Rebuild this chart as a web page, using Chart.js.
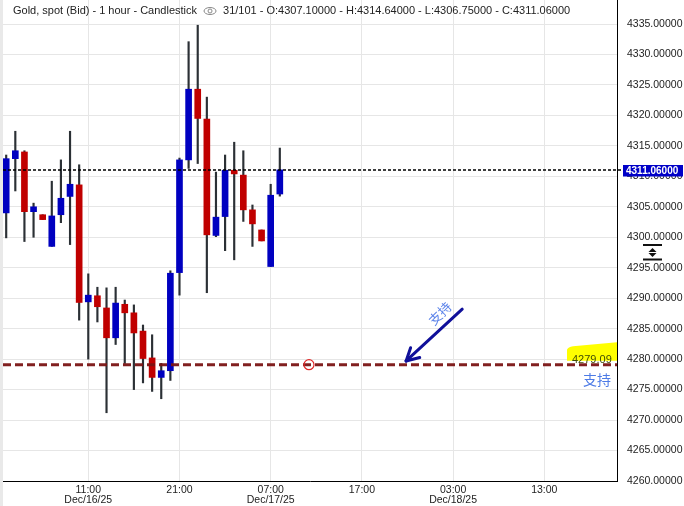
<!DOCTYPE html>
<html><head><meta charset="utf-8">
<script src="https://cdn.jsdelivr.net/npm/chart.js@4.4.1/dist/chart.umd.min.js"></script>
<style>html,body{margin:0;padding:0;background:#fff;overflow:hidden}#wrap{width:684px;height:506px;position:relative}</style>
</head><body><div id="wrap"><canvas id="c" width="684" height="506"></canvas></div>
<script>
// ---- data (hourly candles, index 0 = 02:00 Dec/16/25) ----
const hourIndex = [0,1,2,3,4,5,6,7,8,9,10,11,12,13,14,15,16,17,18,19,20,21,22,23,24,25,26,27,28,29,30];
const opens  = [4304.0,4312.9,4314.0,4304.2,4303.7,4298.5,4303.7,4306.7,4308.6,4289.4,4290.4,4288.4,4283.5,4289.0,4287.6,4284.6,4280.2,4277.0,4278.1,4294.2,4312.7,4324.3,4319.4,4300.3,4303.4,4311.0,4310.2,4304.5,4301.2,4295.2,4307.10];
const highs  = [4313.5,4317.4,4314.2,4305.6,4303.7,4309.2,4312.7,4317.4,4311.9,4294.0,4291.8,4291.7,4291.8,4289.7,4288.9,4285.6,4284.0,4279.3,4294.5,4313.0,4332.1,4334.8,4323.0,4310.7,4313.5,4315.6,4314.2,4305.3,4301.2,4308.7,4314.64];
const lows   = [4299.9,4307.6,4299.3,4300.0,4302.9,4298.5,4302.4,4298.8,4286.4,4280.0,4286.1,4271.2,4282.4,4279.3,4275.0,4276.1,4274.7,4273.5,4276.5,4290.5,4311.3,4312.1,4290.9,4300.1,4297.8,4296.3,4302.6,4298.5,4299.4,4295.2,4306.75];
const closes = [4312.9,4314.2,4304.2,4305.0,4302.9,4303.5,4306.4,4308.7,4289.3,4290.5,4288.6,4283.5,4289.2,4287.6,4284.3,4280.1,4277.0,4278.1,4294.1,4312.7,4324.3,4319.5,4300.4,4303.3,4311.0,4310.4,4304.5,4302.2,4299.4,4306.9,4311.06];

const xTickValues = [9,19,29,39,49,59];
const xTickLabels = [['11:00','Dec/16/25'],'21:00',['07:00','Dec/17/25'],'17:00',['03:00','Dec/18/25'],'13:00'];
const yTickValues = [4260,4265,4270,4275,4280,4285,4290,4295,4300,4305,4310,4315,4320,4325,4330,4335];

const lastClose = 4311.06;
const supportLevel = 4279.09;
const supportText = '支持';
const headerTitle = 'Gold, spot (Bid) - 1 hour - Candlestick';
const headerInfo = '31/101 - O:4307.10000 - H:4314.64000 - L:4306.75000 - C:4311.06000';
const markerPoint = [33.2, 4279.09];
const arrowFrom = [50.0, 4288.2];
const arrowTo = [43.85, 4279.7];

// ---- styles ----
const FONT = '"Liberation Sans", Arial, sans-serif';
const CJK = '"Noto Sans CJK SC", "Noto Sans", sans-serif';
const UP = '#0000c0', DOWN = '#c00000', WICK = '#2b3035';

const bodyData = hourIndex.map((h,i)=>({x:h, y:[opens[i], closes[i]]}));
const wickData = hourIndex.map((h,i)=>({x:h, y:[lows[i], highs[i]]}));
const bodyColors = hourIndex.map((h,i)=> closes[i] >= opens[i] ? UP : DOWN);

const overlay = {
  id: 'overlay',
  beforeDraw(chart){
    const c = chart.ctx; c.save(); c.fillStyle = '#fff'; c.fillRect(0,0,chart.width,chart.height); c.restore();
  },
  afterDatasetsDraw(chart){
    const {ctx:c, chartArea:a, scales:{x,y}} = chart;
    c.save();
    const ys = y.getPixelForValue(supportLevel);
    // yellow highlight
    c.fillStyle = '#ffff00';
    c.beginPath();
    c.moveTo(a.right-50, ys-4);
    c.lineTo(a.right-50, ys-15);
    c.quadraticCurveTo(a.right-49, ys-18, a.right-44, ys-18.5);
    c.lineTo(a.right, ys-22.5);
    c.lineTo(a.right, ys-4);
    c.closePath(); c.fill();
    c.fillStyle = '#3f4c05';
    c.font = '11px ' + FONT; c.textBaseline = 'alphabetic'; c.textAlign = 'left';
    c.fillText(supportLevel.toFixed(2), a.right-45, ys-1.5);
    // support dashed line
    c.strokeStyle = 'rgba(122,20,20,0.95)'; c.lineWidth = 3; c.setLineDash([8,4]);
    c.beginPath(); c.moveTo(a.left, ys); c.lineTo(a.right, ys); c.stroke();
    // marker circle
    c.setLineDash([]);
    c.strokeStyle = '#e02828'; c.lineWidth = 1.2;
    c.beginPath(); c.arc(x.getPixelForValue(markerPoint[0]), y.getPixelForValue(markerPoint[1]), 5, 0, Math.PI*2); c.stroke();
    // last price dotted line
    const yc = Math.round(y.getPixelForValue(lastClose));
    c.strokeStyle = '#000'; c.lineWidth = 1.5; c.setLineDash([3,2]);
    c.beginPath(); c.moveTo(a.left, yc); c.lineTo(a.right+6, yc); c.stroke();
    c.setLineDash([]);
    // arrow
    const x0 = x.getPixelForValue(arrowFrom[0]), y0 = y.getPixelForValue(arrowFrom[1]);
    const x1 = x.getPixelForValue(arrowTo[0]), y1 = y.getPixelForValue(arrowTo[1]);
    c.strokeStyle = '#10109a'; c.lineWidth = 3; c.lineCap = 'round';
    c.beginPath(); c.moveTo(x0,y0); c.lineTo(x1,y1); c.stroke();
    const ang = Math.atan2(y0-y1, x0-x1);
    [ -0.5, 0.5 ].forEach(d=>{
      c.beginPath(); c.moveTo(x1,y1);
      c.lineTo(x1 + 14*Math.cos(ang+d), y1 + 14*Math.sin(ang+d)); c.stroke();
    });
    // rotated text
    c.save();
    c.translate(440, 313.5); c.rotate(-Math.PI/4);
    c.fillStyle = '#5a82ea'; c.font = '13px ' + CJK; c.textAlign = 'center'; c.textBaseline = 'middle';
    c.fillText(supportText, 0, 0);
    c.restore();
    // support text right
    c.fillStyle = '#4d7be6'; c.font = '14px ' + CJK; c.textAlign = 'center'; c.textBaseline = 'middle';
    c.fillText(supportText, a.right-20, ys+15);
    c.restore();
  },
  afterDraw(chart){
    const {ctx:c, chartArea:a, scales:{y}} = chart;
    c.save();
    // left strip
    c.fillStyle = '#e9e9e9'; c.fillRect(0,0,3,chart.height);
    // last price label box
    const yc = Math.round(y.getPixelForValue(lastClose));
    c.fillStyle = '#0000c8'; c.fillRect(a.right+6, yc-5, 60, 11.5);
    c.fillStyle = '#fff'; c.font = 'bold 10px ' + FONT; c.textAlign = 'left'; c.textBaseline = 'middle';
    c.fillText(lastClose.toFixed(5), a.right+9, yc+1);
    // scale icon
    c.strokeStyle = '#111'; c.lineWidth = 2; c.fillStyle = '#111';
    c.beginPath(); c.moveTo(643,245); c.lineTo(662,245); c.moveTo(643,259.5); c.lineTo(662,259.5); c.stroke();
    c.beginPath(); c.moveTo(652.5,248); c.lineTo(656.5,252); c.lineTo(648.5,252); c.closePath(); c.fill();
    c.beginPath(); c.moveTo(652.5,257); c.lineTo(656.5,253); c.lineTo(648.5,253); c.closePath(); c.fill();
    // header
    c.fillStyle = '#222'; c.font = '11px ' + FONT; c.textAlign = 'left'; c.textBaseline = 'middle';
    c.fillText(headerTitle, 13, 11);
    const w = c.measureText(headerTitle).width;
    const ex = 13 + w + 13;
    c.strokeStyle = '#888'; c.lineWidth = 1;
    c.beginPath(); c.ellipse(ex, 11, 6, 3.5, 0, 0, Math.PI*2); c.stroke();
    c.beginPath(); c.arc(ex, 11, 2, 0, Math.PI*2); c.stroke();
    c.fillStyle = '#222';
    c.fillText(headerInfo, ex + 13, 11);
    c.restore();
  }
};

new Chart(document.getElementById('c'), {
  type: 'bar',
  data: {
    datasets: [
      { label:'body', data: bodyData, backgroundColor: bodyColors, borderWidth:0, barThickness:6, grouped:false, order:0, borderSkipped:false },
      { label:'wick', data: wickData, backgroundColor: WICK, borderWidth:0, barThickness:1.5, grouped:false, order:1, borderSkipped:false }
    ]
  },
  options: {
    responsive:false, animation:false, devicePixelRatio:1,
    layout:{ padding:{ left:3, top:0, right:0, bottom:0 } },
    plugins:{ legend:{display:false}, tooltip:{enabled:false} },
    scales:{
      x:{
        type:'linear', min:-0.35, max:66.97, offset:false,
        afterBuildTicks: s => { s.ticks = xTickValues.map(v=>({value:v})); },
        afterFit: s => { s.height = 25; s.paddingLeft = 0; s.paddingRight = 0; },
        ticks:{ autoSkip:false, maxRotation:0, padding:4, color:'#222', font:{ size:10.5, family:FONT, lineHeight:0.95 },
          callback: v => { const i = xTickValues.indexOf(v); return i >= 0 ? xTickLabels[i] : ''; } },
        grid:{ color:'#e6e6e6', drawTicks:false, offset:false },
        border:{ color:'#000', width:1 }
      },
      y:{
        position:'right', min:4260, max:4338.94,
        afterBuildTicks: s => { s.ticks = yTickValues.map(v=>({value:v})); },
        afterFit: s => { s.width = 67; s.paddingTop = 0; s.paddingBottom = 0; },
        ticks:{ padding:10, color:'#222', font:{ size:10.5, family:FONT }, callback: v => Number(v).toFixed(5) },
        grid:{ color:'#e6e6e6', drawTicks:false },
        border:{ color:'#000', width:1 }
      }
    }
  },
  plugins:[overlay]
});
</script></body></html>
